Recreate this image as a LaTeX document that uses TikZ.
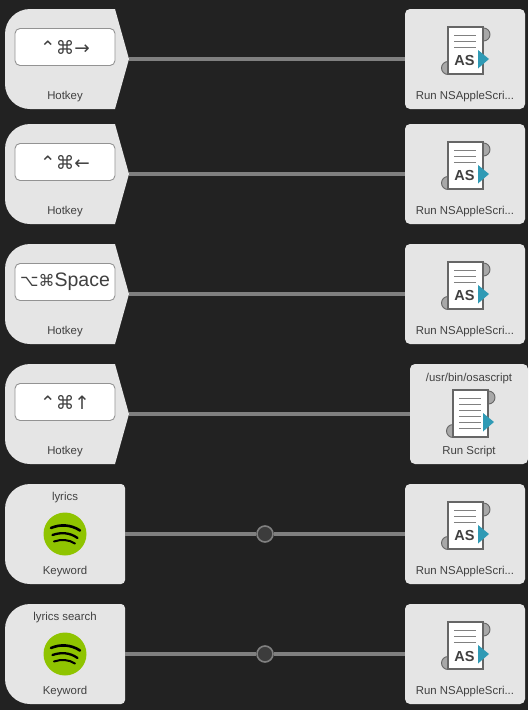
\documentclass[tikz,border=0pt]{standalone}
\usepackage{fontspec}
\setmainfont{Liberation Sans}
\newfontfamily\symfont{DejaVu Sans}
\definecolor{canvas}{HTML}{222222}
\definecolor{blockgray}{HTML}{E5E5E5}
\definecolor{inkgray}{HTML}{404040}
\definecolor{wiregray}{HTML}{808080}
\definecolor{filtergray}{HTML}{3C3C3C}
\definecolor{curlgray}{HTML}{A8A8A8}
\definecolor{tealtip}{HTML}{2F9AB5}
\definecolor{spotgreen}{HTML}{8FC400}
\tikzset{
    x=1pt,y=-1pt,
    wire/.style={wiregray,line width=4pt},
    caption/.style={inkgray,font=\fontsize{11.4}{13}\selectfont,inner sep=0pt},
    roundblock/.style={fill=blockgray,rounded corners=5pt,minimum width=#1,minimum height=100pt,inner sep=0pt},
    filterdot/.style={circle,fill=filtergray,draw=wiregray,line width=1.6pt,minimum size=16pt,inner sep=0pt},
    keycap/.style={fill=white,draw=wiregray!85!white,line width=0.9pt,rounded corners=5pt,minimum width=100pt,minimum height=37pt,inner sep=0pt,text=inkgray},
    pics/hotkeyblock/.style={code={
        \fill[blockgray] (50,-50) [rounded corners=25pt] -- (-60,-50) -- (-60,50) [sharp corners] -- (50,50) -- (64,0) -- cycle;
        \coordinate (-tip) at (64,0);
        \node[keycap] (-cap) at (0,-12) {#1};
        \node[caption] (-label) at (0,38) {Hotkey};
    }},
    pics/keywordblock/.style={code={
        \fill[blockgray] (60,0) [rounded corners=4pt] -- (60,-50) [rounded corners=25pt] -- (-60,-50) -- (-60,50) [rounded corners=4pt] -- (60,50) -- (60,0) -- cycle;
        \coordinate (-edge) at (60,0);
        \node[caption] (-word) at (0,-36) {#1};
        \node[caption] (-label) at (0,38) {Keyword};
        \node[circle,fill=spotgreen,minimum size=43pt,inner sep=0pt] (-logo) at (0,0) {};
        \draw[line width=2.6pt,line cap=round] (-14,-6) .. controls (-5,-10) and (6,-9.5) .. (15,-3.5);
        \draw[line width=2.3pt,line cap=round] (-12.5,1) .. controls (-4,-2) and (5,-1.5) .. (12.5,4);
        \draw[line width=2pt,line cap=round] (-11,7.5) .. controls (-4,5) and (4,5.5) .. (10,9.5);
    }},
    pics/scriptpage/.style={code={
        \filldraw[fill=curlgray,draw=wiregray!80!black,line width=0.9pt] (18,-16) circle (6.5pt);
        \filldraw[fill=curlgray,draw=wiregray!80!black,line width=0.9pt] (-17.5,17.5) circle (6.5pt);
        \filldraw[fill=white,draw=wiregray!80!black,line width=1.2pt] (-17.5,-23.5) rectangle (17.5,23.5);
        #1
        \fill[tealtip] (12.5,-0.5) -- (23.5,8.5) -- (12.5,18) -- cycle;
    }},
    pics/asicon/.style={code={
        \pic {scriptpage={
            \foreach \ly in {-15,-9,-3} \draw[wiregray,line width=1.2pt] (-11.5,\ly) -- (10.5,\ly);
            \node[inkgray,font=\fontsize{14.5}{16}\selectfont\bfseries,inner sep=0pt] (-as) at (-1,10.5) {AS};
        }};
    }},
    pics/linesicon/.style={code={
        \pic {scriptpage={
            \foreach \ly in {-15,-9,-3,3,9,15} \draw[wiregray,line width=1.2pt] (-11.5,\ly) -- (10.5,\ly);
        }};
    }}
}
\newcommand{\keyglyphs}[1]{{\symfont\fontsize{18.5}{22}\selectfont #1}}
\begin{document}
\begin{tikzpicture}
    \fill[canvas] (0,0) rectangle (528,710);
    \useasboundingbox (0,0) rectangle (528,710);

    % left column
    \pic (hotA) at (65,59) {hotkeyblock={\keyglyphs{⌃⌘→}}};
    \pic (hotB) at (65,174) {hotkeyblock={\keyglyphs{⌃⌘←}}};
    \pic (hotC) at (65,294) {hotkeyblock={{\symfont\fontsize{16}{22}\selectfont ⌥⌘}{\fontsize{19.5}{22}\selectfont Space}}};
    \pic (hotD) at (65,414) {hotkeyblock={\keyglyphs{⌃⌘↑}}};
    \pic (keyE) at (65,534) {keywordblock={lyrics}};
    \pic (keyF) at (65,654) {keywordblock={lyrics search}};

    % right column
    \node[roundblock=120pt] (runA) at (465,59) {};
    \node[roundblock=120pt] (runB) at (465,174) {};
    \node[roundblock=120pt] (runC) at (465,294) {};
    \node[roundblock=118pt] (runD) at (469,414) {};
    \node[roundblock=120pt] (runE) at (465,534) {};
    \node[roundblock=120pt] (runF) at (465,654) {};
    \pic at (465.5,50.5) {asicon};
    \pic at (465.5,165.5) {asicon};
    \pic at (465.5,285.5) {asicon};
    \pic at (470.5,413.5) {linesicon};
    \pic at (465.5,525.5) {asicon};
    \pic at (465.5,645.5) {asicon};
    \node[caption] (capA) at (465,97) {Run NSAppleScri...};
    \node[caption] (capB) at (465,212) {Run NSAppleScri...};
    \node[caption] (capC) at (465,332) {Run NSAppleScri...};
    \node[caption] (pathD) at (469,379) {/usr/bin/osascript};
    \node[caption] (capD) at (469,452) {Run Script};
    \node[caption] (capE) at (465,572) {Run NSAppleScri...};
    \node[caption] (capF) at (465,692) {Run NSAppleScri...};

    % connections
    \draw[wire] (hotA-tip) -- (runA);
    \draw[wire] (hotB-tip) -- (runB);
    \draw[wire] (hotC-tip) -- (runC);
    \draw[wire] (hotD-tip) -- (runD);
    \node[filterdot] (dotE) at (265,534) {};
    \node[filterdot] (dotF) at (265,654) {};
    \draw[wire] (keyE-edge) -- (dotE);
    \draw[wire] (dotE) -- (runE);
    \draw[wire] (keyF-edge) -- (dotF);
    \draw[wire] (dotF) -- (runF);
\end{tikzpicture}
\end{document}
